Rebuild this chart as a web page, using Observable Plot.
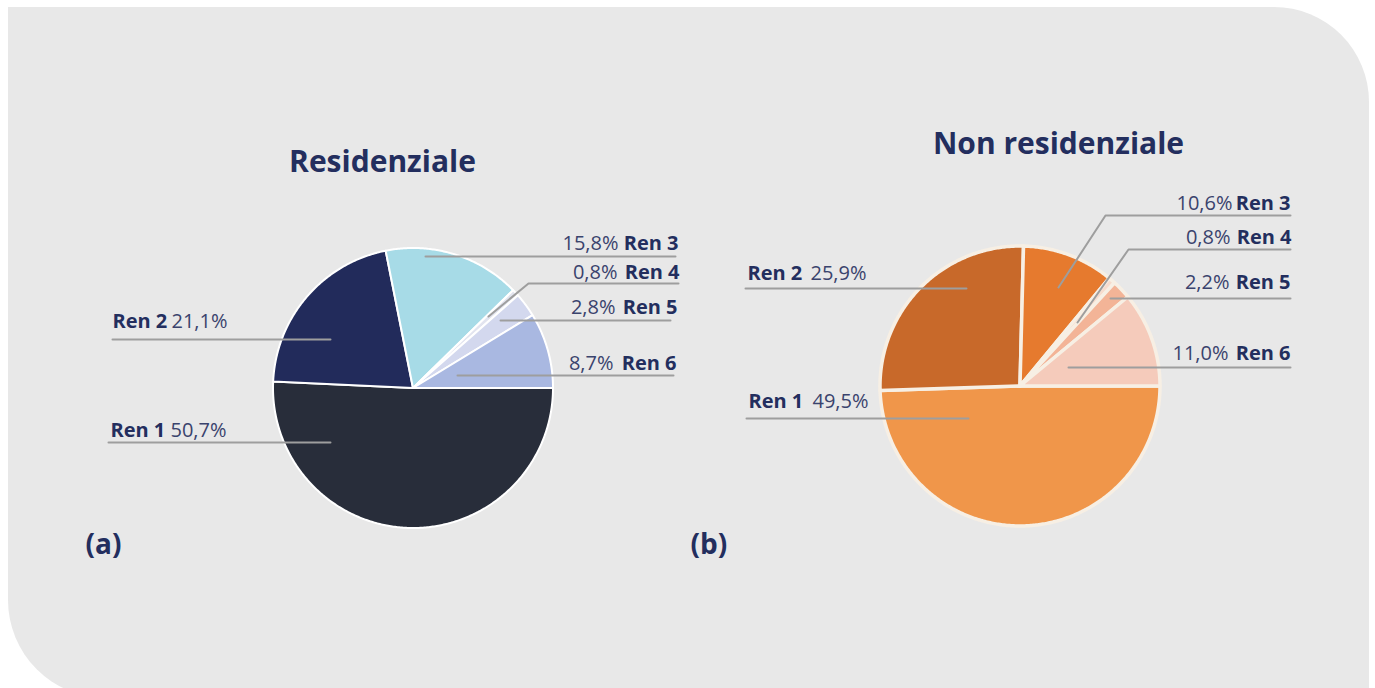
<!DOCTYPE html>
<html>
<head>
<meta charset="utf-8">
<script src="https://cdn.jsdelivr.net/npm/d3@7"></script>
<script src="https://cdn.jsdelivr.net/npm/@observablehq/plot@0.6"></script>
<style>
  html, body { margin: 0; padding: 0; background: #ffffff; overflow: hidden; }
  #bg { position: absolute; left: 8px; top: 7px; width: 1361px; height: 691px;
        background: #e8e8e8; border-radius: 0 95px 0 98px; }
  #chart { position: absolute; left: 0; top: 0; }
</style>
</head>
<body>
<div id="bg"></div>
<div id="chart"></div>
<script>
// ---- data ----
const categories = ["Ren 1", "Ren 2", "Ren 3", "Ren 4", "Ren 5", "Ren 6"];
const residenziale = [50.7, 21.1, 15.8, 0.8, 2.8, 8.7];
const nonResidenziale = [49.5, 25.9, 10.6, 0.8, 2.2, 11.0];
const titles = ["Residenziale", "Non residenziale"];
const panelTags = ["(a)", "(b)"];
const coloriRes = ["#282d3a", "#222b5b", "#a7dbe7", "#e2e4ef", "#d3d8ee", "#a9b8e1"];
const coloriNonRes = ["#f0964a", "#c8692a", "#e67a2e", "#f7dccd", "#f3b497", "#f5cbbb"];

const fmtPct = v => d3.format(".1f")(v).replace(".", ",") + "%";

// ---- layout (positions only) ----
const layout = [
  { cx: 413, cy: 388, r: 140, sep: "#ffffff", sepW: 2,
    titleX: 382, titleY: 171, tagX: 85, tagY: 553,
    labels: [
      { side: "left",  x: 110, pctX: 170, y: 436, line: [[108, 442], [330, 442]] },
      { side: "left",  x: 112, pctX: 171, y: 327, line: [[112, 339], [330, 339]] },
      { side: "right", x: 678, pctX: 618, y: 249, line: [[675, 256], [425, 256]] },
      { side: "right", x: 679, pctX: 617, y: 278, line: [[678, 283], [528, 283], [488, 316]] },
      { side: "right", x: 677, pctX: 615, y: 313, line: [[670, 320], [500, 320]] },
      { side: "right", x: 676, pctX: 613, y: 369, line: [[673, 375], [457, 375]] }
    ] },
  { cx: 1020, cy: 386, r: 140, sep: "#f7efe4", sepW: 3.5,
    titleX: 1058, titleY: 153, tagX: 690, tagY: 553,
    labels: [
      { side: "left",  x: 748, pctX: 812, y: 407, line: [[746, 418], [968, 418]] },
      { side: "left",  x: 747, pctX: 810, y: 279, line: [[745, 288], [966, 288]] },
      { side: "right", x: 1290, pctX: 1232, y: 209, line: [[1290, 215], [1105, 215], [1058, 287]] },
      { side: "right", x: 1291, pctX: 1230, y: 243, line: [[1290, 249], [1128, 249], [1077, 322]] },
      { side: "right", x: 1290, pctX: 1229, y: 288, line: [[1290, 298], [1110, 298]] },
      { side: "right", x: 1290, pctX: 1228, y: 359, line: [[1290, 367], [1068, 367]] }
    ] }
];

const series = [residenziale, nonResidenziale];
const palettes = [coloriRes, coloriNonRes];

// ---- build wedge polygons from d3.pie ----
function wedgeRows(values, colors, L, p) {
  const arcs = d3.pie().sort(null)
    .startAngle(Math.PI / 2).endAngle(Math.PI / 2 + 2 * Math.PI)(values);
  const rows = [];
  arcs.forEach((a, i) => {
    const n = Math.max(2, Math.ceil((a.endAngle - a.startAngle) / 0.01));
    for (let k = 0; k <= n; k++) {
      const t = a.startAngle + (a.endAngle - a.startAngle) * k / n;
      rows.push({ key: p + "-" + i, fill: colors[i],
        x1: L.cx, y1: L.cy,
        x2: L.cx + L.r * Math.sin(t), y2: L.cy - L.r * Math.cos(t) });
    }
  });
  return rows;
}

const marks = [];
const leftNames = [], leftPcts = [], rightNames = [], rightPcts = [], lines = [], titleRows = [], tagRows = [];

layout.forEach((L, p) => {
  marks.push(Plot.area(wedgeRows(series[p], palettes[p], L, p), {
    x1: "x1", y1: "y1", x2: "x2", y2: "y2", z: "key", fill: "fill",
    stroke: L.sep, strokeWidth: L.sepW, strokeLinejoin: "round"
  }));
  categories.forEach((c, i) => {
    const lab = L.labels[i];
    const name = { x: lab.x, y: lab.y, text: c };
    const pct = { x: lab.pctX, y: lab.y, text: fmtPct(series[p][i]) };
    if (lab.side === "left") { leftNames.push(name); leftPcts.push(pct); }
    else { rightNames.push(name); rightPcts.push(pct); }
    lab.line.forEach(([x, y]) => lines.push({ id: p + "-" + i, x, y }));
  });
  titleRows.push({ x: L.titleX, y: L.titleY, text: titles[p] });
  tagRows.push({ x: L.tagX, y: L.tagY, text: panelTags[p] });
});

const ink = "#232e5e";
const inkLight = "#3a436d";

marks.push(
  Plot.line(lines, { x: "x", y: "y", z: "id", stroke: "#9e9e9e", strokeWidth: 2, curve: "linear" }),
  Plot.text(leftNames, { x: "x", y: "y", text: "text", textAnchor: "start", lineAnchor: "bottom",
    fontSize: 20, fontWeight: "bold", fill: ink }),
  Plot.text(leftPcts, { x: "x", y: "y", text: "text", textAnchor: "start", lineAnchor: "bottom",
    fontSize: 20, fill: inkLight }),
  Plot.text(rightNames, { x: "x", y: "y", text: "text", textAnchor: "end", lineAnchor: "bottom",
    fontSize: 20, fontWeight: "bold", fill: ink }),
  Plot.text(rightPcts, { x: "x", y: "y", text: "text", textAnchor: "end", lineAnchor: "bottom",
    fontSize: 20, fill: inkLight }),
  Plot.text(titleRows, { x: "x", y: "y", text: "text", textAnchor: "middle", lineAnchor: "bottom",
    fontSize: 30, fontWeight: "bold", fill: ink }),
  Plot.text(tagRows, { x: "x", y: "y", text: "text", textAnchor: "start", lineAnchor: "bottom",
    fontSize: 28, fontWeight: "bold", fill: ink })
);

const W = 1375, H = 688;
const chart = Plot.plot({
  width: W, height: H,
  margin: 0,
  x: { domain: [0, W], range: [0, W], axis: null },
  y: { domain: [0, H], range: [0, H], axis: null },
  color: { type: "identity" },
  style: { background: "transparent", fontFamily: "'Open Sans', sans-serif" },
  marks
});
document.getElementById("chart").appendChild(chart);
</script>
</body>
</html>
